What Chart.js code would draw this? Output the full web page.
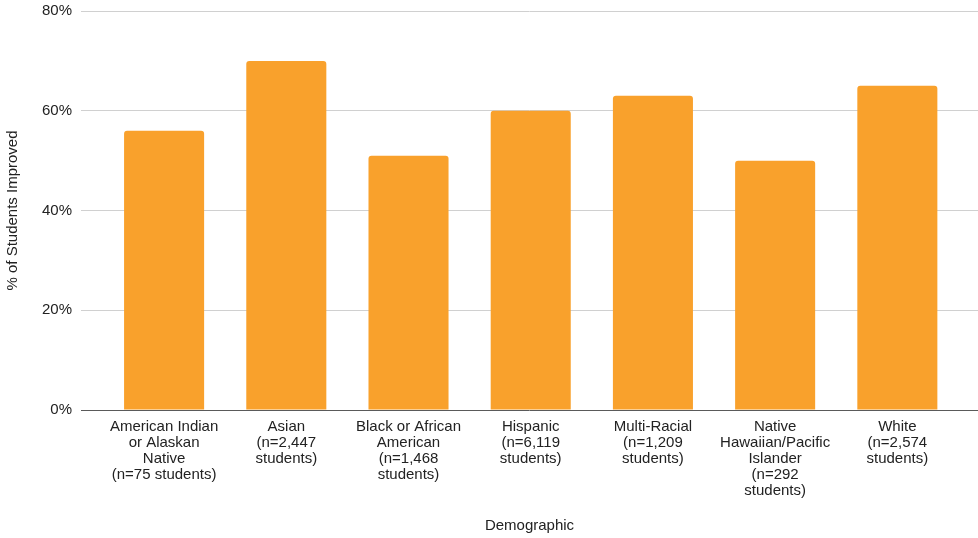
<!DOCTYPE html>
<html>
<head>
<meta charset="utf-8">
<script src="https://cdn.jsdelivr.net/npm/chart.js@4"></script>
<style>
  html, body { margin: 0; padding: 0; background: #fff; }
  #wrap { width: 978px; height: 538px; }
</style>
</head>
<body>
<div id="wrap"><canvas id="improvedChart" width="978" height="538"></canvas></div>
<script>
const demographics = [
    ["American Indian", "or Alaskan", "Native", "(n=75 students)"],
    ["Asian", "(n=2,447", "students)"],
    ["Black or African", "American", "(n=1,468", "students)"],
    ["Hispanic", "(n=6,119", "students)"],
    ["Multi-Racial", "(n=1,209", "students)"],
    ["Native", "Hawaiian/Pacific", "Islander", "(n=292", "students)"],
    ["White", "(n=2,574", "students)"]
];
const pctImproved = [56, 70, 51, 60, 63, 50, 65];
const yTicks = [0, 20, 40, 60, 80];

const font = { family: "'Liberation Sans', Arial, sans-serif", size: 15 };

let ctx = document.getElementById("improvedChart").getContext('2d');
let improvedChart = new Chart(ctx, {
    type: 'bar',
    data: {
        datasets: [{
            label: '% of Students Improved',
            backgroundColor: '#f9a12c',
            borderRadius: 3,
            borderSkipped: 'start',
            barPercentage: 0.655,
            categoryPercentage: 1,
            data: pctImproved.map((v, i) => ({ x: i, y: v }))
        }]
    },
    options: {
        responsive: false,
        animation: false,
        layout: { padding: { top: 11, right: 0, left: 0, bottom: 0 } },
        plugins: {
            legend: { display: false },
            tooltip: { enabled: false }
        },
        scales: {
            x: {
                type: 'linear',
                offset: false,
                min: -0.68,
                max: 6.66,
                afterBuildTicks: (scale) => {
                    scale.ticks = demographics.map((_, i) => ({ value: i }));
                },
                afterFit: (scale) => {
                    scale.height = 128;
                    scale.paddingLeft = 0;
                    scale.paddingRight = 0;
                },
                grid: { display: false },
                border: { display: false },
                ticks: {
                    color: '#222',
                    font: { ...font, lineHeight: '16px' },
                    padding: 1,
                    maxRotation: 0,
                    autoSkip: false,
                    callback: (v) => demographics[v] || ''
                },
                title: {
                    display: true,
                    text: 'Demographic',
                    color: '#222',
                    font: font,
                    padding: { top: 0, bottom: 3 }
                }
            },
            y: {
                min: 0,
                max: 80,
                afterBuildTicks: (scale) => {
                    scale.ticks = yTicks.map(v => ({ value: v }));
                },
                afterFit: (scale) => {
                    scale.width = 81;
                    scale.paddingTop = 0;
                    scale.paddingBottom = 0;
                },
                grid: {
                    color: (c) => c.tick && c.tick.value === 0 ? '#5a5a5a' : '#d0d0d0',
                    lineWidth: 1,
                    drawTicks: false
                },
                border: { display: false },
                ticks: {
                    color: '#222',
                    font: font,
                    padding: 9,
                    callback: (v) => v + '%'
                },
                title: {
                    display: true,
                    text: '% of Students Improved',
                    color: '#222',
                    font: font,
                    padding: { top: 4, bottom: 0 }
                }
            }
        }
    }
});
</script>
</body>
</html>
